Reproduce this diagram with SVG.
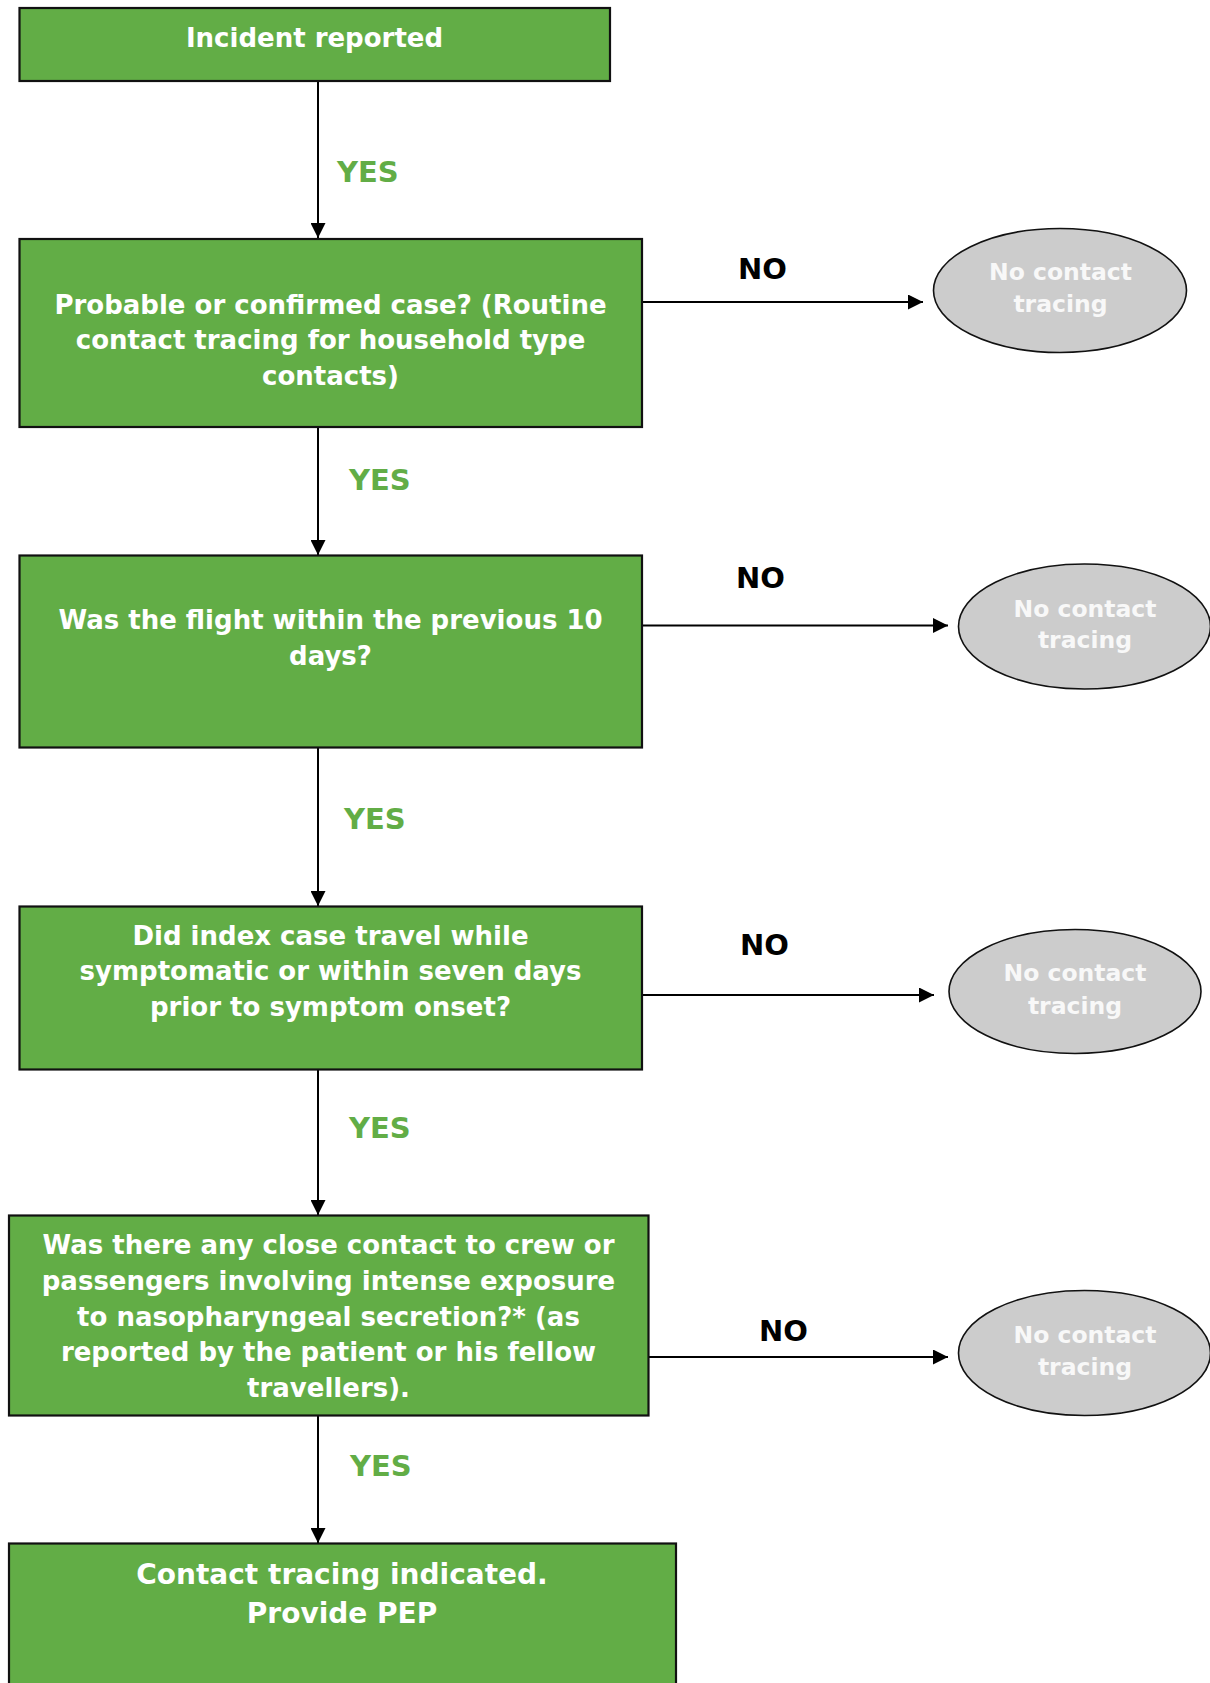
<svg xmlns="http://www.w3.org/2000/svg" width="1210" height="1683" viewBox="0 0 1210 1683">
<defs>
<style>
.box{fill:#62AD46;stroke:#111111;stroke-width:2.2}
.ell{fill:#CCCCCC;stroke:#111111;stroke-width:1.6}
.bt{font-family:"DejaVu Sans",Verdana,sans-serif;font-weight:bold;font-size:26px;fill:#FFFFFF;text-anchor:middle}
.et{font-family:"DejaVu Sans",Verdana,sans-serif;font-weight:bold;font-size:23.5px;fill:#F8F8F8;text-anchor:middle}
.yes{font-family:"DejaVu Sans",Verdana,sans-serif;font-weight:bold;font-size:29px;fill:#62AD46}
.no{font-family:"DejaVu Sans",Verdana,sans-serif;font-weight:bold;font-size:29px;fill:#000000}
.con{stroke:#000;stroke-width:2;fill:none;marker-end:url(#ah)}
</style>
<marker id="ah" viewBox="0 0 15 15" refX="15" refY="7.5" markerWidth="15" markerHeight="15" markerUnits="userSpaceOnUse" orient="auto">
<path d="M0,0 L15,7.5 L0,15 z" fill="#000"/>
</marker>
</defs>
<rect width="1210" height="1683" fill="#FFFFFF"/>

<g id="connectors">
<line class="con" x1="318" y1="81" x2="318" y2="238"/>
<line class="con" x1="318" y1="427" x2="318" y2="555"/>
<line class="con" x1="318" y1="748" x2="318" y2="906"/>
<line class="con" x1="318" y1="1070" x2="318" y2="1215"/>
<line class="con" x1="318" y1="1416" x2="318" y2="1543"/>
<line class="con" x1="642" y1="302" x2="923" y2="302"/>
<line class="con" x1="642" y1="625.5" x2="948" y2="625.5"/>
<line class="con" x1="642" y1="995" x2="934" y2="995"/>
<line class="con" x1="648.5" y1="1357" x2="948" y2="1357"/>
<text class="yes" x="337" y="182">YES</text>
<text class="yes" x="349" y="490">YES</text>
<text class="yes" x="344" y="829">YES</text>
<text class="yes" x="349" y="1138">YES</text>
<text class="yes" x="350" y="1476">YES</text>
<text class="no" x="738" y="279">NO</text>
<text class="no" x="736" y="588">NO</text>
<text class="no" x="740" y="955">NO</text>
<text class="no" x="759" y="1340.5">NO</text>
</g>

<g id="n-incident">
<rect class="box" x="19.5" y="8" width="590.5" height="73"/>
<text class="bt" x="314.5" y="46.5">Incident reported</text>
</g>

<g id="n-probable">
<rect class="box" x="19.5" y="239" width="622.5" height="188"/>
<text class="bt" x="330.5" y="313.5">Probable or confirmed case? (Routine</text>
<text class="bt" x="330.5" y="349">contact tracing for household type</text>
<text class="bt" x="330.5" y="384.5">contacts)</text>
</g>

<g id="n-flight">
<rect class="box" x="19.5" y="555.5" width="622.5" height="192"/>
<text class="bt" x="330.5" y="629">Was the flight within the previous 10</text>
<text class="bt" x="330.5" y="665">days?</text>
</g>

<g id="n-symptomatic">
<rect class="box" x="19.5" y="906.5" width="622.5" height="163"/>
<text class="bt" x="330.5" y="944.5">Did index case travel while</text>
<text class="bt" x="330.5" y="980">symptomatic or within seven days</text>
<text class="bt" x="330.5" y="1015.5">prior to symptom onset?</text>
</g>

<g id="n-closecontact">
<rect class="box" x="9" y="1215.5" width="639.5" height="200"/>
<text class="bt" x="328.5" y="1254">Was there any close contact to crew or</text>
<text class="bt" x="328.5" y="1290">passengers involving intense exposure</text>
<text class="bt" x="328.5" y="1325.5">to nasopharyngeal secretion?* (as</text>
<text class="bt" x="328.5" y="1361">reported by the patient or his fellow</text>
<text class="bt" x="328.5" y="1396.5">travellers).</text>
</g>

<g id="n-pep">
<rect class="box" x="9" y="1543.5" width="667" height="200"/>
<text class="bt" x="342" y="1584" style="font-size:28px">Contact tracing indicated.</text>
<text class="bt" x="342" y="1623" style="font-size:28px">Provide PEP</text>
</g>

<g id="n-no1">
<ellipse class="ell" cx="1060" cy="290.5" rx="126.5" ry="62"/>
<text class="et" x="1060.5" y="280">No contact</text>
<text class="et" x="1060.5" y="312">tracing</text>
</g>

<g id="n-no2">
<ellipse class="ell" cx="1084.5" cy="626.5" rx="126" ry="62.5"/>
<text class="et" x="1085" y="616.5">No contact</text>
<text class="et" x="1085" y="648">tracing</text>
</g>

<g id="n-no3">
<ellipse class="ell" cx="1075" cy="991.5" rx="126" ry="62"/>
<text class="et" x="1075" y="981">No contact</text>
<text class="et" x="1075" y="1013.5">tracing</text>
</g>

<g id="n-no4">
<ellipse class="ell" cx="1084.5" cy="1353" rx="126" ry="62.5"/>
<text class="et" x="1085" y="1343">No contact</text>
<text class="et" x="1085" y="1375">tracing</text>
</g>
</svg>
